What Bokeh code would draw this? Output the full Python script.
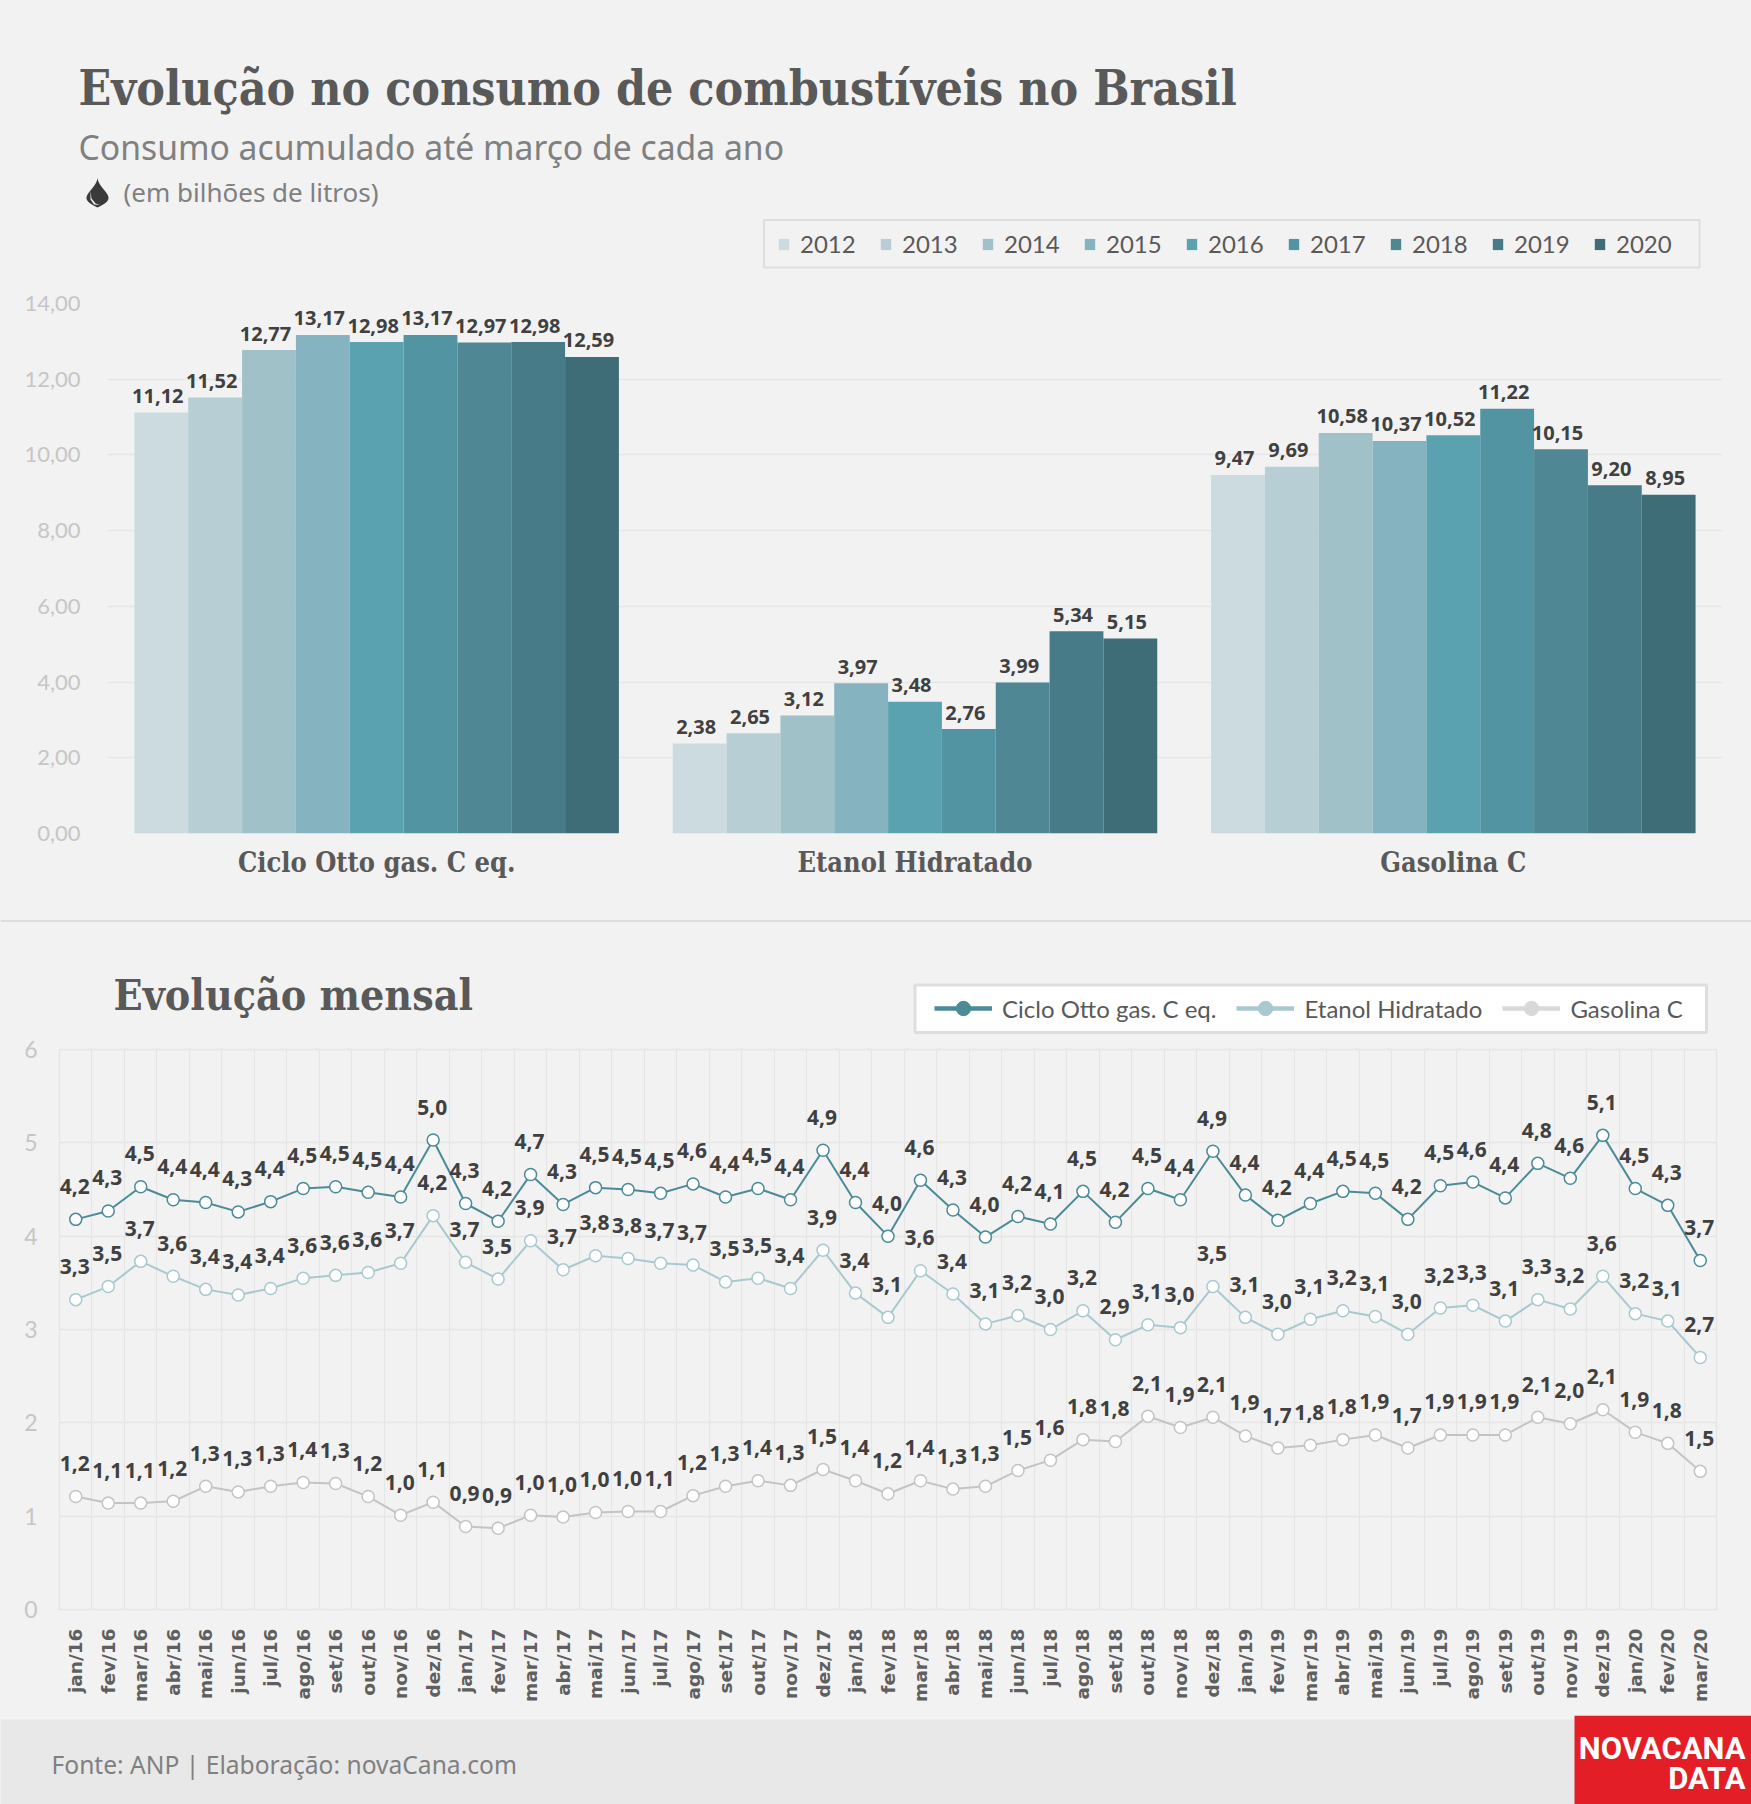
from bokeh.embed import file_html
from bokeh.resources import INLINE
from bokeh.plotting import figure
from bokeh.layouts import column
from bokeh.core.properties import value
from bokeh.models import (ColumnDataSource, FactorRange, Range1d, FixedTicker, Label, Legend, LegendItem)
from bokeh.transform import dodge
import math

# ---------------- data ----------------
groups = ["Ciclo Otto gas. C eq.", "Etanol Hidratado", "Gasolina C"]
years = ["2012", "2013", "2014", "2015", "2016", "2017", "2018", "2019", "2020"]
otto_acum = [11.12, 11.52, 12.77, 13.17, 12.98, 13.17, 12.97, 12.98, 12.59]
etanol_acum = [2.38, 2.65, 3.12, 3.97, 3.48, 2.76, 3.99, 5.34, 5.15]
gasolina_acum = [9.47, 9.69, 10.58, 10.37, 10.52, 11.22, 10.15, 9.20, 8.95]
bar_y_ticks = [0, 2, 4, 6, 8, 10, 12, 14]
bar_y_labels = ["0,00", "2,00", "4,00", "6,00", "8,00", "10,00", "12,00", "14,00"]

months = ["jan/16", "fev/16", "mar/16", "abr/16", "mai/16", "jun/16", "jul/16", "ago/16", "set/16", "out/16", "nov/16", "dez/16",
          "jan/17", "fev/17", "mar/17", "abr/17", "mai/17", "jun/17", "jul/17", "ago/17", "set/17", "out/17", "nov/17", "dez/17",
          "jan/18", "fev/18", "mar/18", "abr/18", "mai/18", "jun/18", "jul/18", "ago/18", "set/18", "out/18", "nov/18", "dez/18",
          "jan/19", "fev/19", "mar/19", "abr/19", "mai/19", "jun/19", "jul/19", "ago/19", "set/19", "out/19", "nov/19", "dez/19",
          "jan/20", "fev/20", "mar/20"]
otto_mes = [4.18, 4.27, 4.53, 4.39, 4.36, 4.26, 4.37, 4.51, 4.53, 4.47, 4.42, 5.03,
            4.35, 4.16, 4.66, 4.34, 4.52, 4.50, 4.46, 4.56, 4.42, 4.51, 4.39, 4.92,
            4.36, 4.00, 4.60, 4.28, 3.99, 4.21, 4.13, 4.48, 4.15, 4.51, 4.39, 4.91,
            4.44, 4.17, 4.35, 4.48, 4.46, 4.18, 4.54, 4.58, 4.41, 4.78, 4.62, 5.08,
            4.51, 4.33, 3.74]
etanol_mes = [3.32, 3.46, 3.73, 3.57, 3.43, 3.37, 3.44, 3.55, 3.58, 3.61, 3.71, 4.22,
              3.72, 3.54, 3.95, 3.64, 3.79, 3.76, 3.71, 3.69, 3.51, 3.55, 3.44, 3.85,
              3.39, 3.13, 3.63, 3.38, 3.06, 3.15, 3.00, 3.20, 2.89, 3.05, 3.02, 3.46,
              3.13, 2.95, 3.11, 3.20, 3.14, 2.95, 3.23, 3.26, 3.09, 3.32, 3.22, 3.57,
              3.17, 3.09, 2.70]
gasolina_mes = [1.21, 1.14, 1.14, 1.16, 1.32, 1.26, 1.32, 1.36, 1.35, 1.21, 1.01, 1.15,
                0.89, 0.87, 1.01, 0.99, 1.04, 1.05, 1.05, 1.22, 1.32, 1.38, 1.33, 1.50,
                1.38, 1.24, 1.38, 1.29, 1.32, 1.49, 1.60, 1.82, 1.80, 2.07, 1.95, 2.06,
                1.86, 1.73, 1.76, 1.82, 1.87, 1.73, 1.87, 1.87, 1.87, 2.06, 1.99, 2.14,
                1.90, 1.78, 1.48]
otto_txt = ("4,2 4,3 4,5 4,4 4,4 4,3 4,4 4,5 4,5 4,5 4,4 5,0 4,3 4,2 4,7 4,3 4,5 4,5 4,5 4,6 4,4 4,5 4,4 4,9 "
            "4,4 4,0 4,6 4,3 4,0 4,2 4,1 4,5 4,2 4,5 4,4 4,9 4,4 4,2 4,4 4,5 4,5 4,2 4,5 4,6 4,4 4,8 4,6 5,1 4,5 4,3 3,7").split()
etanol_txt = ("3,3 3,5 3,7 3,6 3,4 3,4 3,4 3,6 3,6 3,6 3,7 4,2 3,7 3,5 3,9 3,7 3,8 3,8 3,7 3,7 3,5 3,5 3,4 3,9 "
              "3,4 3,1 3,6 3,4 3,1 3,2 3,0 3,2 2,9 3,1 3,0 3,5 3,1 3,0 3,1 3,2 3,1 3,0 3,2 3,3 3,1 3,3 3,2 3,6 3,2 3,1 2,7").split()
gasolina_txt = ("1,2 1,1 1,1 1,2 1,3 1,3 1,3 1,4 1,3 1,2 1,0 1,1 0,9 0,9 1,0 1,0 1,0 1,0 1,1 1,2 1,3 1,4 1,3 1,5 "
                "1,4 1,2 1,4 1,3 1,3 1,5 1,6 1,8 1,8 2,1 1,9 2,1 1,9 1,7 1,8 1,8 1,9 1,7 1,9 1,9 1,9 2,1 2,0 2,1 1,9 1,8 1,5").split()

# ---------------- style ----------------
W = 1751
BG = "#f2f2f2"
GRID = "#e6e6e6"
TICK = "#c6c6c6"
DARK = "#595959"
MID = "#808080"
VAL = "#404040"
SLAB = "DejaVu Serif Condensed"
SANS = "Noto Sans"
LEG = "Lato"
NUM = "Noto Sans"
bar_colors = ["#ccdbe0", "#b7ced4", "#a1c1c8", "#85b3bf", "#5ba2b0", "#5394a2", "#4f8894", "#477b87", "#3e6d78"]
OFF = -500  # legend-only helper glyphs sit outside the visible strip


def panel(top, bottom):
    """Borderless strip of the page; its ranges are the page's pixel coordinates."""
    p = figure(width=W, height=bottom - top, x_range=Range1d(0, W), y_range=Range1d(bottom, top),
               x_axis_location=None, y_axis_location=None, output_backend="svg", toolbar_location=None,
               min_border_left=0, min_border_right=0, min_border_top=0, min_border_bottom=0, frame_align=False,
               background_fill_color=BG, border_fill_color=BG, outline_line_color=None)
    p.grid.visible = False
    return p


def text(p, x, y, s, font, size, color, style="normal", align="left"):
    p.add_layout(Label(x=x, y=y, text=s, text_font=font, text_font_size=size, text_color=color,
                       text_font_style=style, text_align=align, text_baseline="alphabetic"))


# ---------------- header ----------------
head = panel(0, 275)
text(head, 78, 87, "Evolução no consumo de combustíveis no Brasil", SLAB, "47.8px", DARK, "bold")
text(head, 78, 146.5, "Consumo acumulado até março de cada ano", SANS, "33.7px", MID)
text(head, 123, 191.5, "(em bilhões de litros)", SANS, "26px", MID)
drop_t = [k / 30 for k in range(31)]
drop_x = [97 + 11 * math.sin(math.pi * t ** 1.8) for t in drop_t] + [97 - 11 * math.sin(math.pi * t ** 1.8) for t in reversed(drop_t)]
drop_y = [177 + 30 * t for t in drop_t] + [177 + 30 * t for t in reversed(drop_t)]
head.patch(drop_x, drop_y, fill_color="#3a3a3a", line_color=None)
head.patch([90, 91, 95, 99.5, 93.5, 90], [190, 198, 203, 204.5, 204, 199], fill_color=BG, line_color=None)
head.quad(left=[763.5], right=[1699], top=[219.5], bottom=[267], fill_color=BG, line_color="#dedede", line_width=2)
for yr, col in zip(years, bar_colors):
    head.vbar(x=[OFF], top=[OFF], width=1, fill_color=col, line_color=None, legend_label=yr)
lg = head.legend[0]
lg.orientation = "horizontal"
lg.location = (777, 275 - 258)
lg.background_fill_alpha = 0
lg.border_line_color = None
lg.padding = 0
lg.margin = 0
lg.spacing = 23
lg.glyph_width = 13
lg.glyph_height = 14
lg.label_standoff = 10
lg.label_width = 56
lg.label_text_font = LEG
lg.label_text_font_size = "24px"
lg.label_text_color = DARK

# ---------------- bar chart ----------------
TOP1, BOT1 = 275, 919
p1 = figure(width=W, height=BOT1 - TOP1, x_range=FactorRange(factors=groups, range_padding=0, factor_padding=0, group_padding=0),
            y_range=Range1d(0, 14), output_backend="svg", toolbar_location=None, frame_align=False,
            min_border_left=107, min_border_right=29, min_border_top=303 - TOP1, min_border_bottom=BOT1 - 833,
            background_fill_color=BG, border_fill_color=BG, outline_line_color=None)
p1.xgrid.visible = False
p1.ygrid.grid_line_color = GRID
p1.ygrid.grid_line_width = 1.5
p1.yaxis.ticker = FixedTicker(ticks=bar_y_ticks)
p1.yaxis.major_label_overrides = dict(zip(bar_y_ticks, bar_y_labels))
p1.yaxis.major_label_text_color = TICK
p1.yaxis.major_label_text_font = LEG
p1.yaxis.major_label_text_font_size = "22px"
p1.yaxis.major_label_standoff = 21
p1.yaxis.axis_line_color = None
p1.yaxis.major_tick_line_color = None
p1.yaxis.minor_tick_line_color = None
p1.xaxis.axis_line_color = None
p1.xaxis.major_tick_line_color = None
p1.xaxis.major_label_text_color = DARK
p1.xaxis.major_label_text_font = SLAB
p1.xaxis.major_label_text_font_style = "bold"
p1.xaxis.major_label_text_font_size = "27px"
p1.xaxis.major_label_standoff = 7

bar_series = [otto_acum, etanol_acum, gasolina_acum]
for i, yr in enumerate(years):
    vals = [s[i] for s in bar_series]
    src = ColumnDataSource(dict(cat=groups, v=vals))
    p1.vbar(x=dodge("cat", (i - 4) * 0.1, range=p1.x_range), top="v", width=0.1, bottom=0, source=src,
            fill_color=bar_colors[i], line_color=None)
for i, yr in enumerate(years):
    vals = [s[i] for s in bar_series]
    src = ColumnDataSource(dict(cat=groups, v=vals, t=[f"{v:.2f}".replace(".", ",") for v in vals]))
    p1.text(x=dodge("cat", (i - 4) * 0.1, range=p1.x_range), y="v", text="t", source=src, x_offset=-3.5, y_offset=-16.5,
            text_align="center", text_baseline="middle", text_font=value(NUM), text_font_style="bold",
            text_font_size="20px", text_color=VAL)

# ---------------- sub header ----------------
sub = panel(919, 1035)
sub.quad(left=[0], right=[W], top=[919.5], bottom=[921.5], fill_color="#dedede", line_color=None)
text(sub, 113, 994, "Evolução mensal", SLAB, "42.5px", DARK, "bold")
sub.quad(left=[914.5], right=[1706], top=[984.5], bottom=[1032], fill_color="white", line_color="#dedede", line_width=3)
items = []
line_series = [
    ("Ciclo Otto gas. C eq.", otto_mes, otto_txt, "#4b8b97", "#4b8b97"),
    ("Etanol Hidratado", etanol_mes, etanol_txt, "#a9c9d0", "#a9c9d0"),
    ("Gasolina C", gasolina_mes, gasolina_txt, "#c4c4c4", "#d9d9d9"),
]
for name, _, _, _, legcol in line_series:
    r1 = sub.line([OFF, OFF], [OFF, OFF], line_color=legcol, line_width=4.5)
    r2 = sub.scatter([OFF], [OFF], marker="circle", fill_color=legcol, line_color=legcol)
    items.append(LegendItem(label=name, renderers=[r1, r2]))
sub.add_layout(Legend(items=items, orientation="horizontal", location=(934, 1035 - 1026), background_fill_color="white",
                      background_fill_alpha=0, border_line_color=None, padding=0, margin=0, spacing=20,
                      glyph_width=58, glyph_height=36, label_standoff=10, label_text_font=LEG, label_text_font_size="24px",
                      label_text_color=DARK))

# ---------------- line chart ----------------
TOP2, BOT2 = 1035, 1715
N = len(months)
xs = [i + 0.5 for i in range(N)]
p2 = figure(width=W, height=BOT2 - TOP2, x_range=Range1d(0, N), y_range=Range1d(0, 6), output_backend="svg",
            toolbar_location=None, frame_align=False, min_border_left=59, min_border_right=35, min_border_top=1049 - TOP2,
            min_border_bottom=BOT2 - 1609, background_fill_color=BG, border_fill_color=BG,
            outline_line_color=GRID, outline_line_width=1.5)
p2.xgrid.ticker = FixedTicker(ticks=list(range(N + 1)))
p2.xgrid.grid_line_color = GRID
p2.xgrid.grid_line_width = 1.2
p2.ygrid.ticker = FixedTicker(ticks=[0, 1, 2, 3, 4, 5, 6])
p2.ygrid.grid_line_color = GRID
p2.ygrid.grid_line_width = 1.5
p2.yaxis.ticker = FixedTicker(ticks=[0, 1, 2, 3, 4, 5, 6])
p2.yaxis.major_label_text_color = TICK
p2.yaxis.major_label_text_font = LEG
p2.yaxis.major_label_text_font_size = "23px"
p2.yaxis.major_label_standoff = 16
p2.yaxis.axis_line_color = None
p2.yaxis.major_tick_line_color = None
p2.yaxis.minor_tick_line_color = None
p2.xaxis.ticker = FixedTicker(ticks=xs)
p2.xaxis.major_label_overrides = dict(zip(xs, months))
p2.xaxis.major_label_orientation = math.pi / 2
p2.xaxis.major_label_text_color = "#5f5f5f"
p2.xaxis.major_label_text_font = "DejaVu Sans"
p2.xaxis.major_label_text_font_style = "bold"
p2.xaxis.major_label_text_font_size = "18.5px"
p2.xaxis.major_label_standoff = 13
p2.xaxis.axis_line_color = None
p2.xaxis.major_tick_line_color = None
p2.xaxis.minor_tick_line_color = None

for name, vals, txt, col, legcol in line_series:
    src = ColumnDataSource(dict(x=xs, y=vals, t=txt))
    p2.line("x", "y", source=src, line_color=col, line_width=2)
    p2.scatter("x", "y", source=src, marker="circle", size=12, fill_color="white", line_color=col, line_width=1.5)
    p2.text("x", "y", text="t", source=src, x_offset=-1, y_offset=-33, text_align="center", text_baseline="middle",
            text_font=value(NUM), text_font_style="bold", text_font_size="21px", text_color=VAL)

# ---------------- footer ----------------
foot = panel(1715, 1804)
foot.quad(left=[0], right=[W], top=[1719], bottom=[1804], fill_color="#e8e8e8", line_color=None)
foot.quad(left=[1574], right=[W], top=[1715], bottom=[1804], fill_color="#e31e26", line_color=None)
text(foot, 51, 1764, "Fonte: ANP | Elaboração: novaCana.com", SANS, "24.6px", MID)
text(foot, 1745, 1748, "NOVACANA", "Roboto", "31px", "white", "bold", "right")
text(foot, 1745, 1778, "DATA", "Roboto", "31px", "white", "bold", "right")

layout = column(head, p1, sub, p2, foot, spacing=0)
open("out.html", "w").write(file_html(layout, INLINE).replace("</head>", "<style>html,body{background:#f2f2f2}</style></head>", 1))
